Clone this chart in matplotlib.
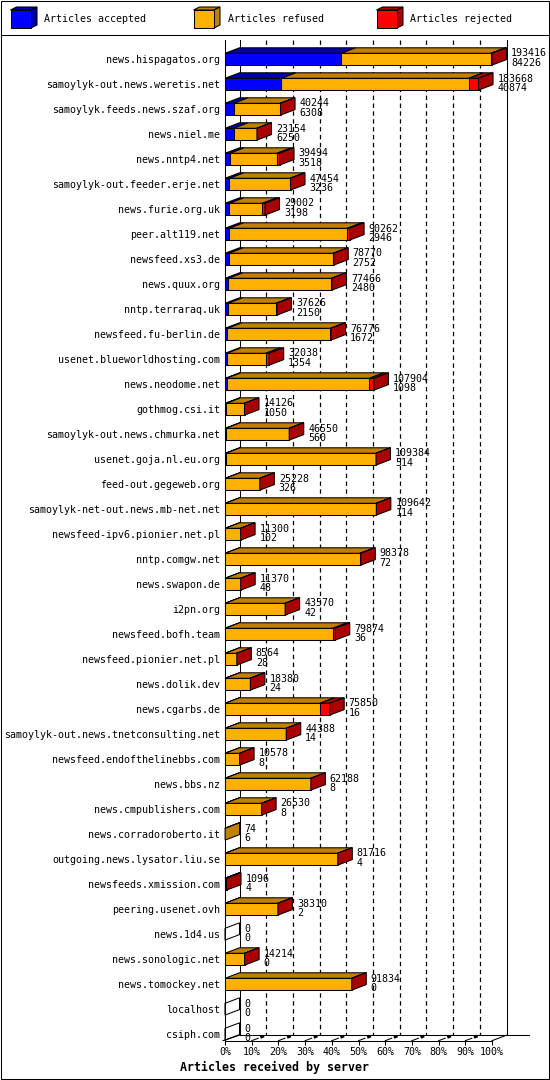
import matplotlib
matplotlib.use('Agg')
import matplotlib.pyplot as plt
from matplotlib.patches import Rectangle, Polygon

servers = [
    "news.hispagatos.org", "samoylyk-out.news.weretis.net", "samoylyk.feeds.news.szaf.org",
    "news.niel.me", "news.nntp4.net", "samoylyk-out.feeder.erje.net", "news.furie.org.uk",
    "peer.alt119.net", "newsfeed.xs3.de", "news.quux.org", "nntp.terraraq.uk",
    "newsfeed.fu-berlin.de", "usenet.blueworldhosting.com", "news.neodome.net",
    "gothmog.csi.it", "samoylyk-out.news.chmurka.net", "usenet.goja.nl.eu.org",
    "feed-out.gegeweb.org", "samoylyk-net-out.news.mb-net.net", "newsfeed-ipv6.pionier.net.pl",
    "nntp.comgw.net", "news.swapon.de", "i2pn.org", "newsfeed.bofh.team",
    "newsfeed.pionier.net.pl", "news.dolik.dev", "news.cgarbs.de",
    "samoylyk-out.news.tnetconsulting.net", "newsfeed.endofthelinebbs.com", "news.bbs.nz",
    "news.cmpublishers.com", "news.corradoroberto.it", "outgoing.news.lysator.liu.se",
    "newsfeeds.xmission.com", "peering.usenet.ovh", "news.1d4.us", "news.sonologic.net",
    "news.tomockey.net", "localhost", "csiph.com",
]
totals = [193416, 183668, 40244, 23154, 39494, 47454, 29002, 90262, 78770, 77466,
          37626, 76776, 32038, 107904, 14126, 46550, 109384, 25228, 109642, 11300,
          98378, 11370, 43570, 79874, 8564, 18380, 75850, 44388, 10578, 62188,
          26530, 74, 81716, 1096, 38310, 0, 14214, 91834, 0, 0]
accepted = [84226, 40874, 6308, 6250, 3518, 3236, 3198, 2946, 2752, 2480,
            2150, 1672, 1354, 1098, 1050, 560, 514, 326, 114, 102,
            72, 48, 42, 36, 28, 24, 16, 14, 8, 8,
            8, 6, 4, 4, 2, 0, 0, 0, 0, 0]
rejected = [700, 7200, 150, 150, 2000, 400, 1900, 1700, 500, 400,
            800, 400, 2600, 3400, 100, 100, 100, 80, 60, 50,
            700, 40, 40, 1900, 30, 400, 7200, 30, 20, 20,
            20, 0, 20, 1000, 10, 0, 10, 10, 0, 0]
refused = [t - a - r for t, a, r in zip(totals, accepted, rejected)]
legend_labels = ["Articles accepted", "Articles refused", "Articles rejected"]
x_ticks = [0, 10, 20, 30, 40, 50, 60, 70, 80, 90, 100]
title = "Articles received by server"

front_c = ['#0000ff', '#ffb000', '#ff0000']
dark_c = ['#0000a8', '#c08000', '#aa0000']
MONO = 'DejaVu Sans Mono'
FS = 7.2
LW = 0.75

W, H = 550, 1080
fig = plt.figure(figsize=(W / 100, H / 100), dpi=100)

# background / decoration axes in pixel units
bg = fig.add_axes([0, 0, 1, 1])
bg.set_xlim(0, W)
bg.set_ylim(H, 0)
bg.axis('off')
bg.add_patch(Rectangle((0.5, 0.5), 548, 1078.5, fill=False, ec='black', lw=LW))
bg.plot([0.5, 548.5], [34.5, 34.5], color='black', lw=LW)

leg_x = [10.5, 193.5, 376.5]
for k in range(3):
    x0 = leg_x[k]
    bg.add_patch(Polygon([(x0, 10), (x0 + 6, 7), (x0 + 26.5, 7), (x0 + 20.5, 10)],
                         fc=dark_c[k], ec='black', lw=LW))
    bg.add_patch(Polygon([(x0 + 20.5, 10), (x0 + 26.5, 7), (x0 + 26.5, 25), (x0 + 20.5, 28)],
                         fc=dark_c[k], ec='black', lw=LW))
    bg.add_patch(Rectangle((x0, 10), 20.5, 18, fc=front_c[k], ec='black', lw=LW))
    bg.text(x0 + 34, 19.5, legend_labels[k], ha='left', va='center',
            fontsize=FS, family=MONO)

fig.text(274 / W, 1 - 1067 / H, title, ha='center', va='center',
         fontsize=8.4, family=MONO, fontweight='bold')

# main axes
X0, X100 = 225.0, 492.0
ROW0, ROWSTEP = 59.2, 25.0
AX_TOP, AX_BOT = 40.0, 1040.7
ax = fig.add_axes([X0 / W, 1 - AX_BOT / H, (X100 - X0) / W, (AX_BOT - AX_TOP) / H])
ax.patch.set_alpha(0)
ax.set_xlim(0, 100)
ytop = (AX_TOP - ROW0) / ROWSTEP
ybot = (AX_BOT - ROW0) / ROWSTEP
ax.set_ylim(ybot, ytop)
pxx = 100 / (X100 - X0)
pxy = 1 / ROWSTEP
DX = 14.5 * pxx
DY = 5.5 * pxy
HH = 5.9 * pxy
yback = ybot - DY

for s in ['top', 'right']:
    ax.spines[s].set_visible(False)
for s in ['left', 'bottom']:
    ax.spines[s].set_linewidth(LW)

ax.set_xticks(x_ticks)
ax.set_xticklabels([f"{v}%" for v in x_ticks], family=MONO, fontsize=FS)
ax.tick_params(axis='x', direction='out', length=3.0, width=LW, pad=1.2)
n = len(servers)
ax.set_yticks(range(n))
ax.set_yticklabels(servers, family=MONO, fontsize=FS)
ax.tick_params(axis='y', length=0, pad=3.6)

# back plane lines
for v in x_ticks[1:-1]:
    ax.vlines(v + DX, ytop, yback, colors='black', linewidths=0.9,
              linestyles=(0, (3.5, 2.8)), zorder=1, clip_on=False)
ax.plot([DX, DX], [ytop, yback], color='black', lw=LW, zorder=1, clip_on=False)
ax.plot([100 + DX, 100 + DX], [ytop, yback], color='black', lw=LW, zorder=1, clip_on=False)
ax.plot([DX, (529 - X0) * pxx], [yback, yback], color='black', lw=LW, zorder=1, clip_on=False)
ax.plot([-2 * pxx, DX], [ybot, yback], color='black', lw=LW, zorder=1, clip_on=False)
ax.plot([100, 100 + DX], [ybot, yback], color='black', lw=LW, zorder=1, clip_on=False)
for v in x_ticks[1:-1]:
    ax.plot([v, v + DX * 0.45], [ybot, ybot - DY * 0.45], color='black', lw=LW,
            zorder=1, clip_on=False)
    ax.plot([v + DX * 0.6, v + DX * 0.85], [ybot - DY * 0.6, ybot - DY * 0.85],
            color='black', lw=2.0, zorder=1, clip_on=False, solid_capstyle='butt')

maxtot = max(totals)
for i in range(n):
    vals = [accepted[i], refused[i], rejected[i]]
    x = 0.0
    last = None
    for k, v in enumerate(vals):
        if v <= 0:
            continue
        w = v / maxtot * 100
        ax.add_patch(Polygon([(x, i - HH), (x + DX, i - HH - DY), (x + w + DX, i - HH - DY),
                              (x + w, i - HH)], fc=dark_c[k], ec='black', lw=LW,
                             zorder=4, clip_on=False, joinstyle='miter'))
        ax.add_patch(Rectangle((x, i - HH), w, 2 * HH, fc=front_c[k], ec='black', lw=LW,
                               zorder=5, clip_on=False, joinstyle='miter'))
        x += w
        last = k
    fc = dark_c[last] if last is not None else 'none'
    ax.add_patch(Polygon([(x, i - HH), (x + DX, i - HH - DY), (x + DX, i + HH - DY),
                          (x, i + HH)], fc=fc, ec='black', lw=LW, zorder=5,
                         clip_on=False, joinstyle='miter'))
    tx = x + DX + 4.5 * pxx
    ax.text(tx, i - 2.7 * pxy, f"{totals[i]}", ha='left', va='baseline',
            fontsize=FS, family=MONO, zorder=6, clip_on=False)
    ax.text(tx, i + 6.6 * pxy, f"{accepted[i]}", ha='left', va='baseline',
            fontsize=FS, family=MONO, zorder=6, clip_on=False)

fig.savefig('out.png', dpi=100)
